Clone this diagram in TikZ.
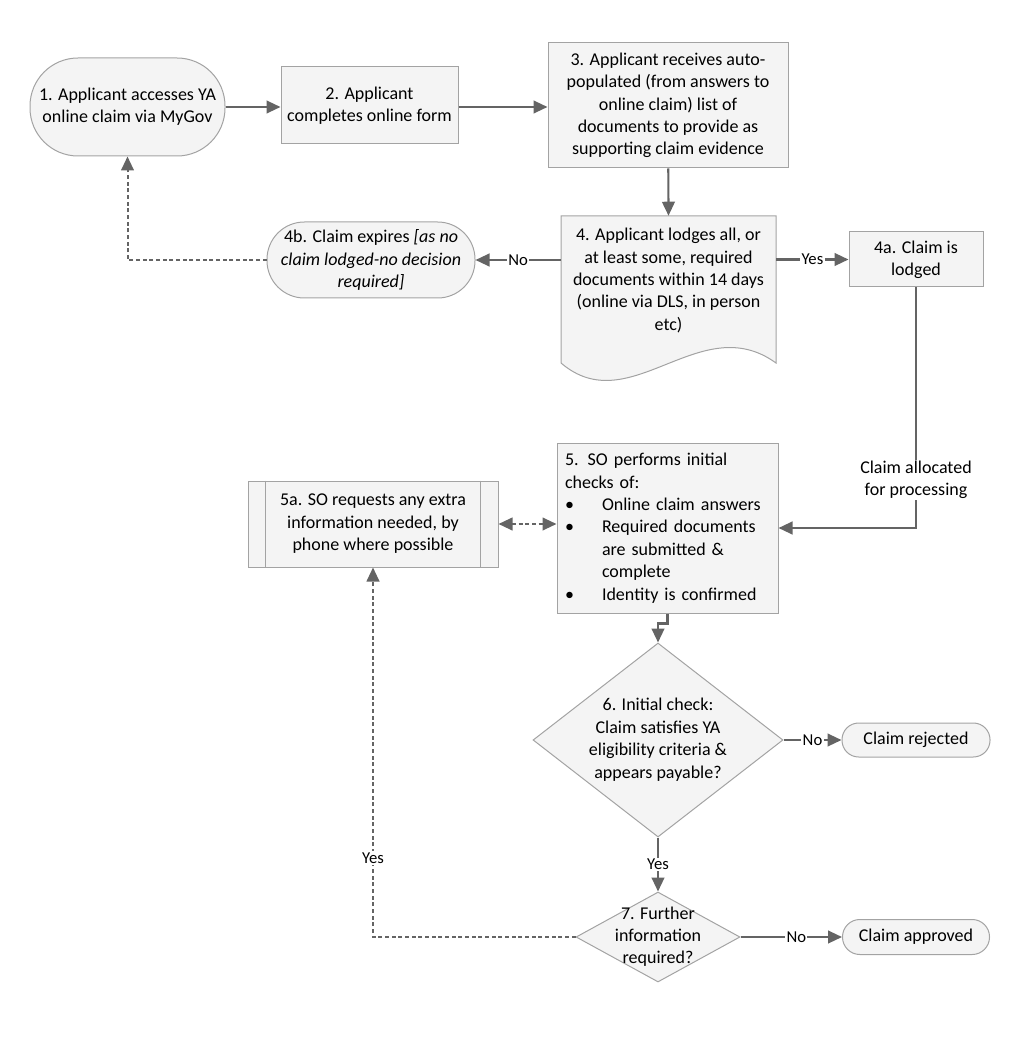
\documentclass[tikz,border=0pt]{standalone}
\usepackage{fontspec}
\setmainfont{Carlito}
\usetikzlibrary{arrows.meta,shapes.geometric,calc}
\definecolor{fillc}{HTML}{F4F4F4}
\definecolor{bordc}{HTML}{A3A3A3}
\definecolor{linec}{HTML}{646464}
\newcommand{\bodyfont}{\fontsize{13.5pt}{16.8pt}\selectfont}
\newcommand{\lblfont}{\fontsize{12.5pt}{14.5pt}\selectfont}
\newcommand{\bul}{\makebox[27.75pt][l]{\textbullet}}
\begin{document}
\begin{tikzpicture}[x=0.75pt,y=-0.75pt,
  box/.style={draw=bordc, fill=fillc, line width=0.75pt, inner sep=0pt, align=center, font=\bodyfont},
  dia/.style={box, diamond},
  tip/.tip={Triangle[length=10.5pt,width=9.5pt]},
  conn/.style={draw=linec, line width=1.6pt, -tip},
  dconn/.style={draw=linec, line width=1.5pt, dash pattern=on 3pt off 2pt, -tip},
  lbl/.style={fill=white, inner sep=1pt, font=\lblfont}]
\useasboundingbox (0,0) rectangle (1020,1044);

% nodes
\node[box, rounded corners=36pt, minimum width=146.25pt, minimum height=73.5pt] (n1) at (127.5,107)
  {1. Applicant accesses YA\\online claim via MyGov};
\node[box, minimum width=132.75pt, minimum height=57.75pt] (n2) at (369.5,105.5)
  {2. Applicant\\completes online form};
\node[box, minimum width=180pt, minimum height=93.75pt] (n3) at (668,105.5)
  {3. Applicant receives auto-\\populated (from answers to\\online claim) list of\\documents to provide as\\supporting claim evidence};
% document shape of step 4
\path[fill=fillc, draw=bordc, line width=0.75pt]
  (561,216) -- (776,216) -- (776,363) .. controls (700,308) and (630,422) .. (561,363) -- cycle;
\node[inner sep=0pt, align=center, font=\bodyfont, minimum width=161.25pt, minimum height=96.75pt] (n4) at (668.5,280.5)
  {4. Applicant lodges all, or\\at least some, required\\documents within 14 days\\(online via DLS, in person\\etc)};
\node[box, rounded corners=28pt, minimum width=156pt, minimum height=57pt] (n4b) at (371,260)
  {4b. Claim expires \textit{[as no}\\\textit{claim lodged-no decision}\\\textit{required]}};
\node[box, minimum width=100.5pt, minimum height=41.25pt] (n4a) at (916,259.5)
  {4a. Claim is\\lodged};
\node[box, align=left, text width=153.75pt, inner xsep=6pt, minimum height=127.5pt] (n5) at (667.5,528)
  {5. SO performs initial\\
   checks of:\\
   \bul Online claim answers\\
   \bul Required documents\\
   \hspace*{27.75pt}are submitted \&\\
   \hspace*{27.75pt}complete\\
   \bul Identity is confirmed};
\node[box, minimum width=187.5pt, minimum height=64.5pt] (n5a) at (373,524)
  {5a. SO requests any extra\\information needed, by\\phone where possible};
\draw[bordc, line width=0.75pt] ([xshift=13.5pt]n5a.north west) -- ([xshift=13.5pt]n5a.south west);
\draw[bordc, line width=0.75pt] ([xshift=-13.5pt]n5a.north east) -- ([xshift=-13.5pt]n5a.south east);
\node[dia, minimum width=187.5pt, minimum height=145.5pt] (n6) at (658,740)
  {\makebox[0pt]{\begin{tabular}{@{}c@{}}6. Initial check:\\Claim satisfies YA\\eligibility criteria \&\\appears payable?\end{tabular}}};
\node[dia, minimum width=123pt, minimum height=67.5pt] (n7) at (658,937)
  {\makebox[0pt]{\begin{tabular}{@{}c@{}}7. Further\\information\\required?\end{tabular}}};
\node[box, rounded corners=12.5pt, minimum width=111pt, minimum height=25.5pt] (rej) at (916,740)
  {Claim rejected};
\node[box, rounded corners=13pt, minimum width=110.25pt, minimum height=26.25pt] (appr) at (916,937)
  {Claim approved};

% connectors
\draw[conn] (n1.east) -- (n2.west |- n1.east);
\draw[conn] (n2.east |- n1.east) -- (n3.west |- n1.east);
\draw[conn] (n3) -- (n4.north);
\draw[conn] (n4.west |- n4b.east) -- node[lbl]{No} (n4b.east);
\draw[dconn] (n4b.west) -| (n1.south);
\draw[conn] (n4.east |- n4a.west) -- node[lbl]{Yes} (n4a.west);
\draw[conn] (n4a.south) |- node[lbl, pos=0.4, font=\bodyfont, align=center]{Claim allocated\\for processing} (n5.east);
\draw[dconn, tip-tip] (n5a.east) -- (n5.west |- n5a.east);
\draw[conn] (n5.south) -- ++(0,10) -| (n6.north);
\draw[conn] (n6.east) -- node[lbl]{No} (rej.west);
\draw[conn] (n6.south) -- node[lbl]{Yes} (n7.north);
\draw[conn] (n7.east) -- node[lbl, pos=0.55]{No} (appr.west);
\draw[dconn] (n7.west) -| node[lbl, pos=0.607]{Yes} (n5a.south);
\end{tikzpicture}
\end{document}
